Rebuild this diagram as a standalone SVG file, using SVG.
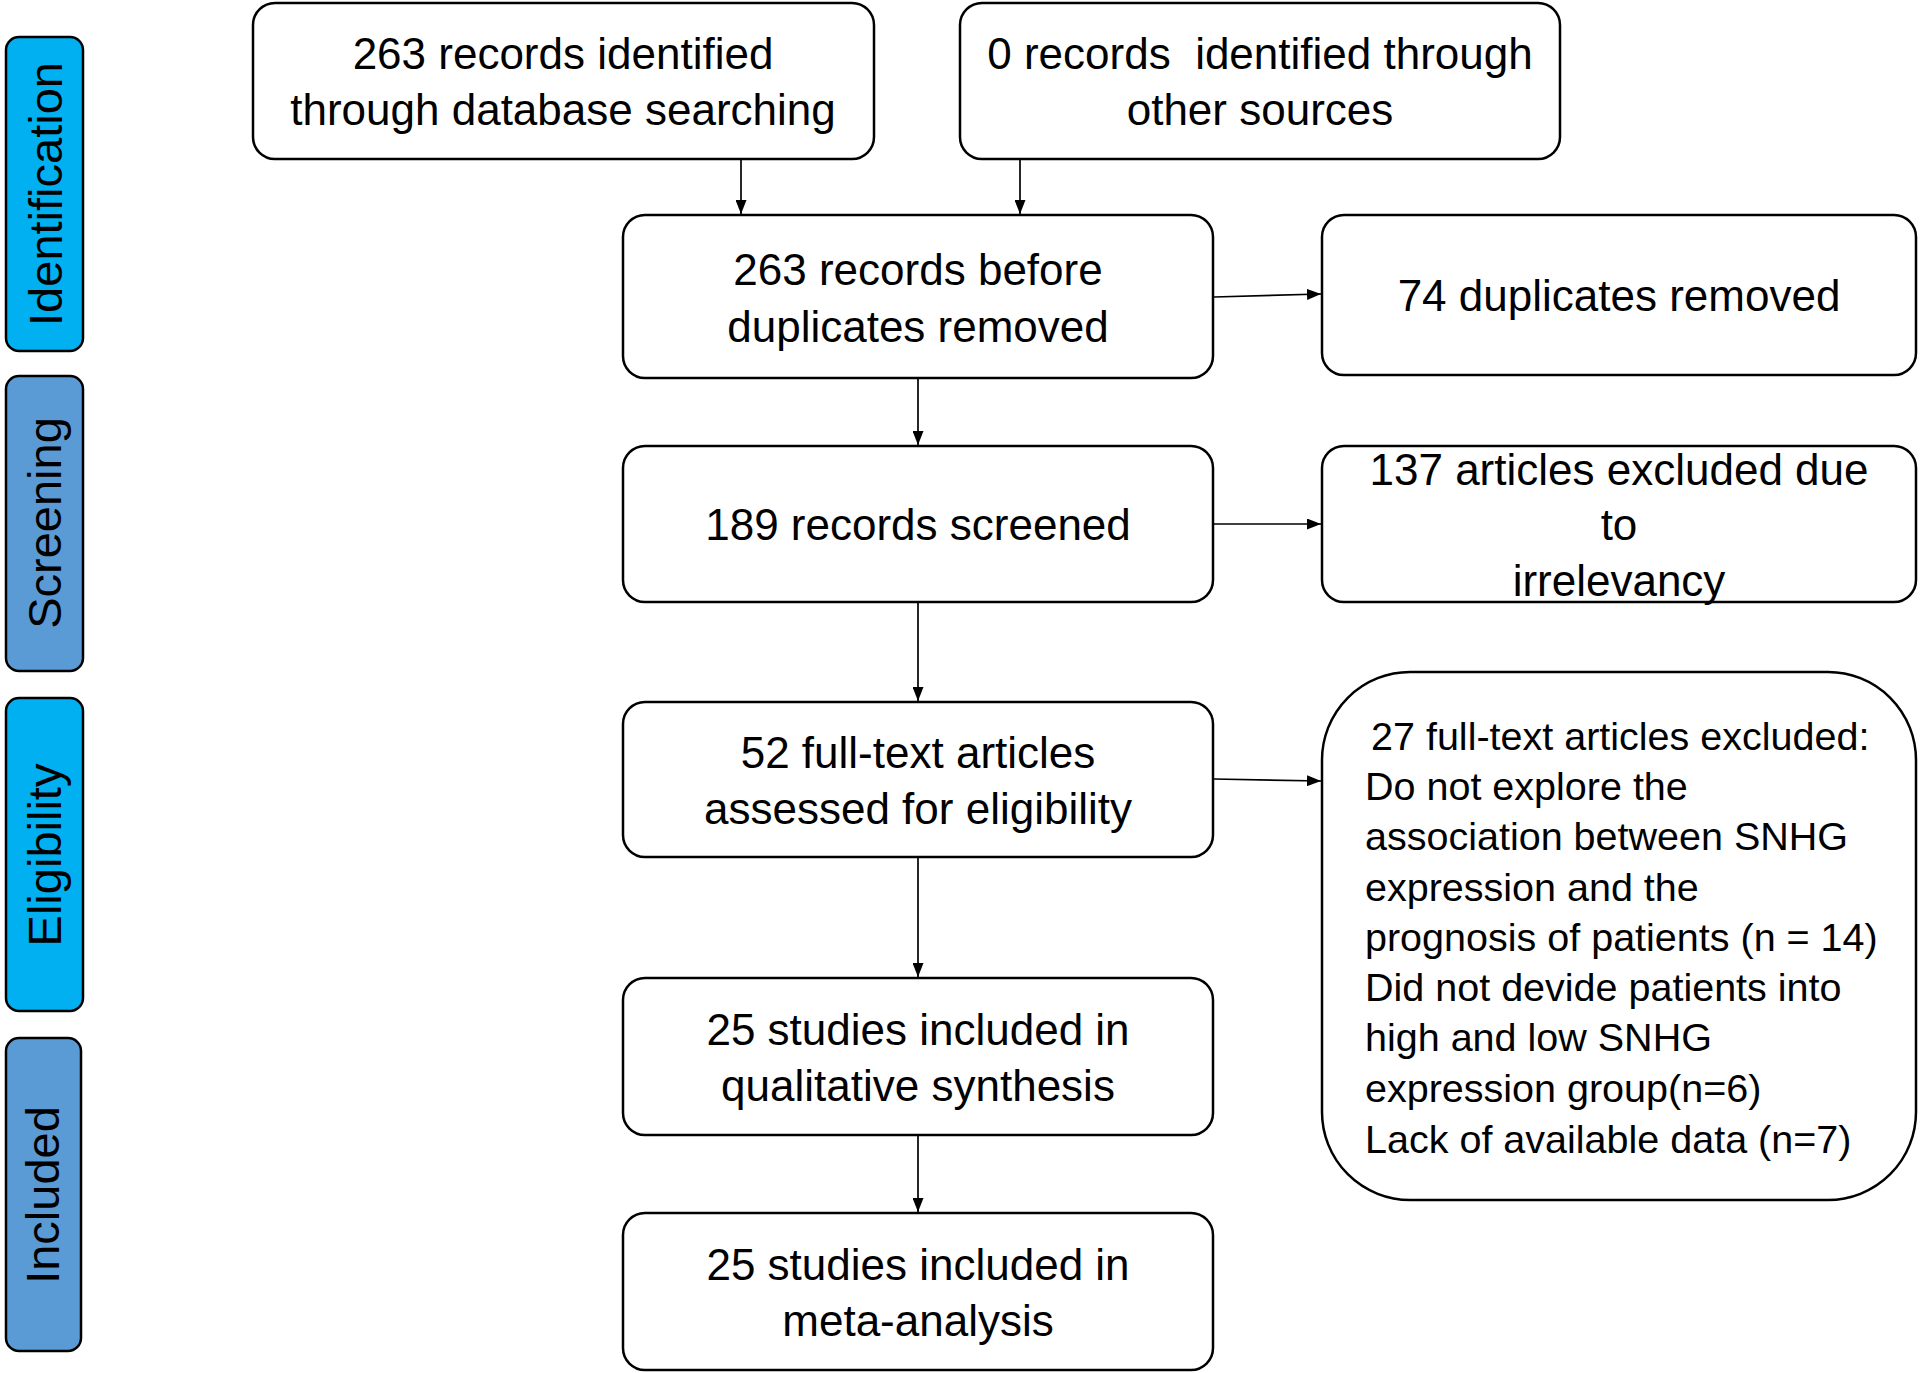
<svg xmlns="http://www.w3.org/2000/svg" width="1920" height="1373" viewBox="0 0 1920 1373">
<defs>
<style>
.box{fill:#ffffff;stroke:#000000;stroke-width:2.5}
.side{stroke:#000000;stroke-width:2.5}
.cyan{fill:#00B0F0}
.steel{fill:#5B9BD5}
.t{font-family:"Liberation Sans",Arial,sans-serif;font-size:44px;fill:#000000;text-anchor:middle}
.tl{font-family:"Liberation Sans",Arial,sans-serif;font-size:39.5px;fill:#000000}
.s{font-family:"Liberation Sans",Arial,sans-serif;font-size:47px;fill:#000000;text-anchor:middle}
.c{stroke:#000000;stroke-width:1.7;fill:none}
</style>
<marker id="ah" viewBox="0 0 14 11" refX="14" refY="5.5" markerWidth="14" markerHeight="11" markerUnits="userSpaceOnUse" orient="auto">
<path d="M0,0 L14,5.5 L0,11 Z" fill="#000000"/>
</marker>
</defs>
<rect width="1920" height="1373" fill="#ffffff"/>

<g id="side-identification">
<rect class="side cyan" x="6" y="37" width="77" height="314" rx="13"/>
<text class="s" transform="translate(62,194) rotate(-90)">Identification</text>
</g>
<g id="side-screening">
<rect class="side steel" x="6" y="376" width="77" height="295" rx="13"/>
<text class="s" transform="translate(61,523) rotate(-90)">Screening</text>
</g>
<g id="side-eligibility">
<rect class="side cyan" x="6" y="698" width="77" height="313" rx="13"/>
<text class="s" transform="translate(61,855) rotate(-90)">Eligibility</text>
</g>
<g id="side-included">
<rect class="side steel" x="6" y="1038" width="75" height="313" rx="13"/>
<text class="s" transform="translate(59,1195) rotate(-90)">Included</text>
</g>

<g id="connectors">
<line class="c" x1="741" y1="160" x2="741" y2="214" marker-end="url(#ah)"/>
<line class="c" x1="1020" y1="160" x2="1020" y2="214" marker-end="url(#ah)"/>
<line class="c" x1="1214" y1="297" x2="1321" y2="294" marker-end="url(#ah)"/>
<line class="c" x1="918" y1="379" x2="918" y2="445" marker-end="url(#ah)"/>
<line class="c" x1="1214" y1="524" x2="1321" y2="524" marker-end="url(#ah)"/>
<line class="c" x1="918" y1="603" x2="918" y2="701" marker-end="url(#ah)"/>
<line class="c" x1="1214" y1="779" x2="1321" y2="781" marker-end="url(#ah)"/>
<line class="c" x1="918" y1="858" x2="918" y2="977" marker-end="url(#ah)"/>
<line class="c" x1="918" y1="1136" x2="918" y2="1212" marker-end="url(#ah)"/>
</g>

<g id="node-database">
<rect class="box" x="253" y="3" width="621" height="156" rx="22"/>
<text class="t" x="563" y="69">263 records identified</text>
<text class="t" x="563" y="125">through database searching</text>
</g>
<g id="node-other">
<rect class="box" x="960" y="3" width="600" height="156" rx="22"/>
<text class="t" x="1260" y="69" xml:space="preserve">0 records  identified through</text>
<text class="t" x="1260" y="125">other sources</text>
</g>
<g id="node-before-dup">
<rect class="box" x="623" y="215" width="590" height="163" rx="22"/>
<text class="t" x="918" y="285">263 records before</text>
<text class="t" x="918" y="342">duplicates removed</text>
</g>
<g id="node-dup-removed">
<rect class="box" x="1322" y="215" width="594" height="160" rx="22"/>
<text class="t" x="1619" y="311">74 duplicates removed</text>
</g>
<g id="node-screened">
<rect class="box" x="623" y="446" width="590" height="156" rx="22"/>
<text class="t" x="918" y="540">189 records screened</text>
</g>
<g id="node-excluded-irrelevancy">
<rect class="box" x="1322" y="446" width="594" height="156" rx="22"/>
<text class="t" x="1619" y="485">137 articles excluded due</text>
<text class="t" x="1619" y="540">to</text>
<text class="t" x="1619" y="596">irrelevancy</text>
</g>
<g id="node-fulltext">
<rect class="box" x="623" y="702" width="590" height="155" rx="22"/>
<text class="t" x="918" y="768">52 full-text articles</text>
<text class="t" x="918" y="824">assessed for eligibility</text>
</g>
<g id="node-fulltext-excluded">
<rect class="box" x="1322" y="672" width="594" height="528" rx="88"/>
<text class="tl" x="1371" y="750">27 full-text articles excluded:</text>
<text class="tl" x="1365" y="800">Do not explore the</text>
<text class="tl" x="1365" y="850">association between SNHG</text>
<text class="tl" x="1365" y="901">expression and the</text>
<text class="tl" x="1365" y="951">prognosis of patients (n = 14)</text>
<text class="tl" x="1365" y="1001">Did not devide patients into</text>
<text class="tl" x="1365" y="1051">high and low SNHG</text>
<text class="tl" x="1365" y="1102">expression group(n=6)</text>
<text class="tl" x="1365" y="1153">Lack of available data (n=7)</text>
</g>
<g id="node-qualitative">
<rect class="box" x="623" y="978" width="590" height="157" rx="22"/>
<text class="t" x="918" y="1045">25 studies included in</text>
<text class="t" x="918" y="1101">qualitative synthesis</text>
</g>
<g id="node-meta">
<rect class="box" x="623" y="1213" width="590" height="157" rx="22"/>
<text class="t" x="918" y="1280">25 studies included in</text>
<text class="t" x="918" y="1336">meta-analysis</text>
</g>
</svg>
